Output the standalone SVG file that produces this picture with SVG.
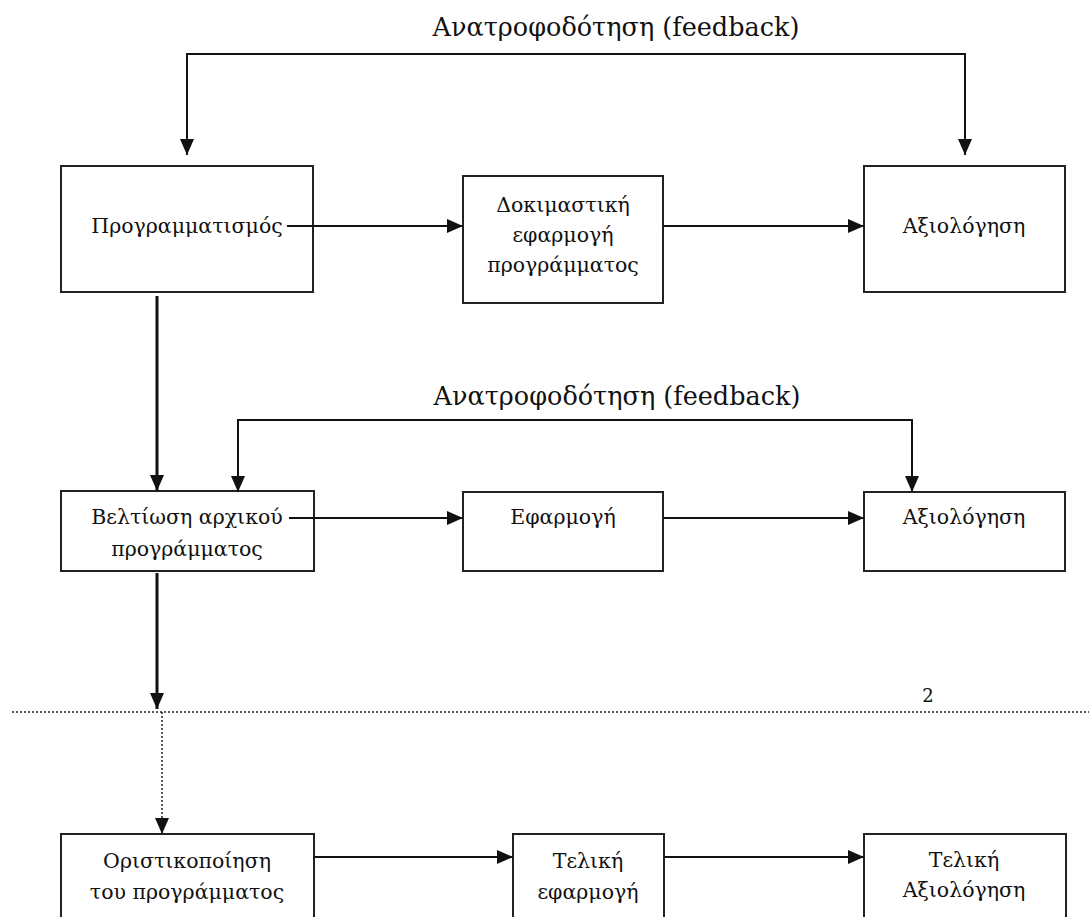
<svg xmlns="http://www.w3.org/2000/svg" width="1089" height="917" viewBox="0 0 1089 917">
<style>
.box{fill:#fff;stroke:#222;stroke-width:2}
.t{font-family:"DejaVu Serif",serif;font-size:20.5px;fill:#111;text-anchor:middle}
.fb{font-family:"DejaVu Serif",serif;font-size:25.5px;fill:#111;text-anchor:middle}
.c{fill:none;stroke:#111;stroke-width:2}
.ct{fill:none;stroke:#111;stroke-width:3}
.d{fill:none;stroke:#222;stroke-width:1.5;stroke-dasharray:2 2}
</style>
<defs>
<marker id="ah" markerUnits="userSpaceOnUse" markerWidth="16" markerHeight="16" refX="16" refY="8" orient="auto">
<path d="M0,1 L16,8 L0,15 Z" fill="#111"/>
</marker>
</defs>
<rect width="1089" height="917" fill="#fff"/>

<g id="n1"><rect class="box" x="61" y="166" width="252" height="126"/><text class="t" x="187" y="233">Προγραμματισμός</text></g>
<g id="n2"><rect class="box" x="463" y="176" width="200" height="127"/><text class="t" x="563" y="212">Δοκιμαστική</text><text class="t" x="563" y="242">εφαρμογή</text><text class="t" x="563" y="272">προγράμματος</text></g>
<g id="n3"><rect class="box" x="864" y="166" width="201" height="126"/><text class="t" x="964" y="233">Αξιολόγηση</text></g>
<g id="n4"><rect class="box" x="61" y="491" width="253" height="80"/><text class="t" x="187" y="524">Βελτίωση αρχικού</text><text class="t" x="187" y="556">προγράμματος</text></g>
<g id="n5"><rect class="box" x="463" y="492" width="200" height="79"/><text class="t" x="563" y="524">Εφαρμογή</text></g>
<g id="n6"><rect class="box" x="864" y="492" width="201" height="79"/><text class="t" x="964" y="524">Αξιολόγηση</text></g>
<g id="n7"><rect class="box" x="61" y="834" width="253" height="100"/><text class="t" x="187" y="868">Οριστικοποίηση</text><text class="t" x="187" y="899">του προγράμματος</text></g>
<g id="n8"><rect class="box" x="513" y="834" width="151" height="100"/><text class="t" x="588" y="868">Τελική</text><text class="t" x="588" y="899">εφαρμογή</text></g>
<g id="n9"><rect class="box" x="864" y="834" width="202" height="100"/><text class="t" x="964" y="867">Τελική</text><text class="t" x="964" y="897">Αξιολόγηση</text></g>

<g id="labels">
<text class="fb" x="616" y="36">Ανατροφοδότηση (feedback)</text>
<text class="fb" x="617" y="405">Ανατροφοδότηση (feedback)</text>
<text class="t" x="928" y="702" style="font-size:18px">2</text>
</g>

<g id="connectors">
<line class="c" x1="186" y1="54" x2="966" y2="54"/>
<line class="c" x1="187" y1="53" x2="187" y2="155" marker-end="url(#ah)"/>
<line class="c" x1="965" y1="53" x2="965" y2="155" marker-end="url(#ah)"/>
<line class="c" x1="287" y1="226" x2="463" y2="226" marker-end="url(#ah)"/>
<line class="c" x1="663" y1="226" x2="864" y2="226" marker-end="url(#ah)"/>
<line class="ct" x1="157" y1="296" x2="157" y2="491" marker-end="url(#ah)"/>
<line class="c" x1="237" y1="420" x2="913" y2="420"/>
<line class="c" x1="238" y1="419" x2="238" y2="492" marker-end="url(#ah)"/>
<line class="c" x1="912" y1="419" x2="912" y2="492" marker-end="url(#ah)"/>
<line class="c" x1="289" y1="518" x2="463" y2="518" marker-end="url(#ah)"/>
<line class="c" x1="663" y1="518" x2="864" y2="518" marker-end="url(#ah)"/>
<line class="ct" x1="157" y1="573" x2="157" y2="709" marker-end="url(#ah)"/>
<line class="d" x1="12" y1="712" x2="1089" y2="712"/>
<line class="d" x1="162" y1="712" x2="162" y2="834" marker-end="url(#ah)"/>
<line class="c" x1="314" y1="857" x2="513" y2="857" marker-end="url(#ah)"/>
<line class="c" x1="664" y1="857" x2="864" y2="857" marker-end="url(#ah)"/>
</g>
</svg>
